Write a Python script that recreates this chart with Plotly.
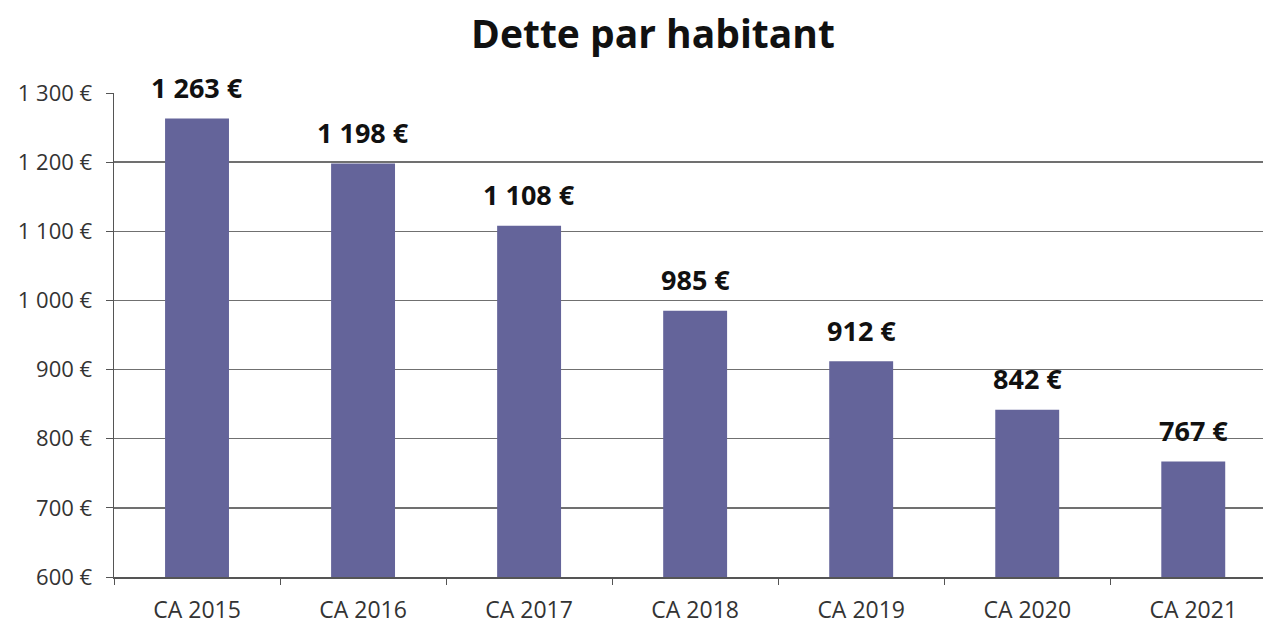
import plotly.graph_objects as go

categories = ["CA 2015", "CA 2016", "CA 2017", "CA 2018", "CA 2019", "CA 2020", "CA 2021"]
values = [1263, 1198, 1108, 985, 912, 842, 767]
value_labels = ["1 263 €", "1 198 €", "1 108 €", "985 €", "912 €", "842 €", "767 €"]
tick_vals = [600, 700, 800, 900, 1000, 1100, 1200, 1300]
tick_text = ["600 €", "700 €", "800 €", "900 €", "1 000 €", "1 100 €", "1 200 €", "1 300 €"]

FONT = "Open Sans"

fig = go.Figure()
fig.add_trace(go.Bar(
    x=categories, y=values,
    marker=dict(color="#64649a", line=dict(width=0)),
    width=0.385,
    hoverinfo="skip",
))

for c, v, t in zip(categories, values, value_labels):
    fig.add_annotation(
        x=c, y=v, text="<b>" + t + "</b>", showarrow=False,
        yanchor="middle", yshift=31,
        font=dict(family=FONT, size=27, color="#111111"),
    )

fig.update_layout(
    width=1263, height=624,
    margin=dict(l=114, r=0, t=93, b=47),
    paper_bgcolor="white", plot_bgcolor="white",
    showlegend=False,
    title=dict(text="<b>Dette par habitant</b>", x=0.517, xanchor="center",
               y=0.945, yanchor="middle",
               font=dict(family=FONT, size=39, color="#111111")),
    font=dict(family=FONT, size=20, color="#333333"),
    xaxis=dict(
        range=[-0.5, 6.42], type="category",
        showgrid=False, showline=True, linecolor="#555555", linewidth=1.5,
        ticks="outside", tickson="boundaries", ticklen=6, tickcolor="#555555",
        tickfont=dict(family=FONT, size=23, color="#333333"),
        ticklabelstandoff=12,
        fixedrange=True,
    ),
    yaxis=dict(
        range=[600, 1300], tickvals=tick_vals, ticktext=tick_text,
        showgrid=True, gridcolor="#707070", gridwidth=1.4,
        showline=True, linecolor="#555555", linewidth=1.5,
        ticks="outside", ticklen=7, tickcolor="#555555",
        tickfont=dict(family=FONT, size=22, color="#333333"),
        ticklabelstandoff=9,
        zeroline=False, fixedrange=True,
    ),
)

fig.write_html("out.html", config={"displayModeBar": False, "staticPlot": True})

with open("out.html", "r", encoding="utf-8") as f:
    html = f.read()
html = html.replace("<body>", '<body style="margin:0;overflow:hidden">', 1)
with open("out.html", "w", encoding="utf-8") as f:
    f.write(html)
